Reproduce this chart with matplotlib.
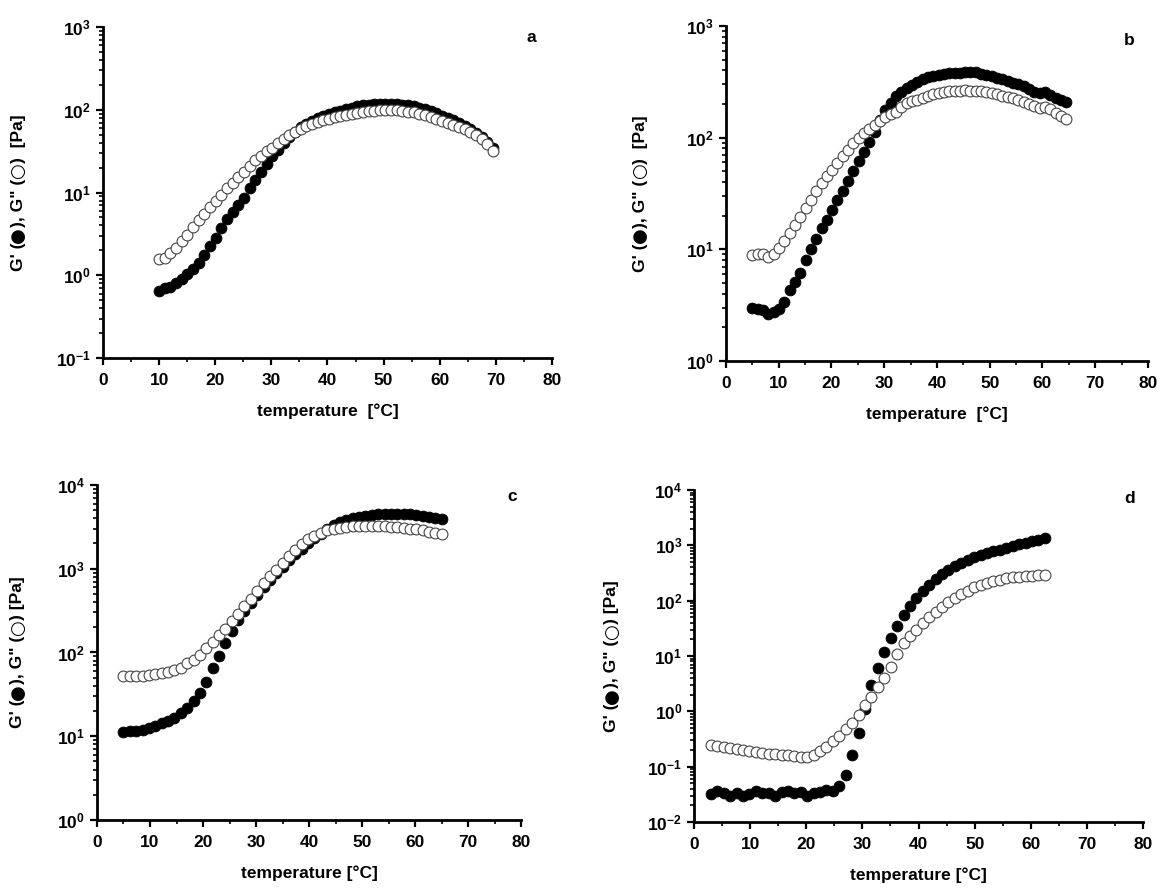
import numpy as np
import matplotlib
matplotlib.use('Agg')
from matplotlib import pyplot as plt
from matplotlib.ticker import FuncFormatter, LogLocator, MultipleLocator, NullFormatter

plt.rcParams['font.family'] = ['Liberation Sans', 'DejaVu Sans']
plt.rcParams['font.weight'] = 'bold'
plt.rcParams['mathtext.fontset'] = 'custom'
plt.rcParams['mathtext.rm'] = 'Liberation Sans'
plt.rcParams['mathtext.bf'] = 'Liberation Sans:bold'

# --- a: temperature sweep, 10 -> 69.5 C
temp_a = np.linspace(10, 69.5, 60)
g1_a = [0.65, 0.71, 0.73, 0.8, 0.9, 1.03, 1.2, 1.42, 1.75, 2.25,
        2.86, 3.7, 4.75, 5.9, 7.1, 8.6, 11.2, 14, 17.5, 22,
        27.5, 33, 40, 47, 54, 62, 68, 74, 79, 84,
        89, 93, 97, 101, 106, 110, 113, 115, 117, 118,
        118, 118, 117, 115, 113, 110, 106, 101, 96, 91,
        85, 80, 75, 70, 64, 59, 53, 47, 41, 35]
g2_a = [1.56, 1.6, 1.85, 2.15, 2.6, 3.1, 3.8, 4.6, 5.5, 6.6,
        7.8, 9.3, 11.5, 13.2, 15.3, 17.6, 21, 24.8, 28, 31.5,
        35, 39.5, 44, 49, 54, 59, 63, 67, 71, 75,
        78, 81, 84, 87, 89, 91, 94, 96, 98, 99,
        100, 100, 99, 97, 95, 93, 90, 86, 82, 78,
        74, 70, 66, 62, 58, 54, 49, 44, 39, 32]

# --- b: 5 -> 64.5 C
temp_b = np.linspace(5, 64.5, 60)
g1_b = [3.0, 2.95, 2.85, 2.65, 2.75, 2.95, 3.4, 4.3, 5.1, 6.1,
        8.0, 10, 12.3, 15.5, 18.3, 22.5, 27.6, 33, 40.5, 50,
        62, 75, 92, 113, 145, 177, 205, 234, 256, 277,
        297, 316, 332, 347, 357, 365, 371, 376, 379, 382,
        383, 384, 386, 372, 364, 356, 345, 333, 321, 310,
        300, 290, 274, 258, 250, 255, 241, 228, 217, 210]
g2_b = [8.9, 9.0, 9.1, 8.5, 9.0, 10.2, 11.8, 13.9, 16.5, 19.5,
        23.3, 27.7, 33, 39, 45, 51, 59, 68, 78, 89,
        99, 110, 120, 129, 141, 154, 162, 171, 187, 203,
        211, 218, 228, 237, 244, 250, 255, 259, 262, 264,
        265, 264, 262, 259, 255, 250, 244, 237, 231, 225,
        218, 210, 201, 192, 183, 187, 179, 165, 156, 148]

# --- c: 5 -> 65 C
temp_c = np.linspace(5, 65, 51)
g1_c = [11.3, 11.4, 11.6, 11.9, 12.6, 13.4, 14.2, 15.0, 16.3, 19,
        22, 26.5, 33, 45, 65, 91, 130, 180, 245, 310,
        390, 490, 610, 740, 890, 1060, 1260, 1480, 1720, 2000,
        2300, 2620, 2950, 3300, 3600, 3850, 4000, 4150, 4280, 4380,
        4450, 4500, 4520, 4520, 4500, 4450, 4380, 4260, 4120, 4000,
        3900]
g2_c = [52, 52, 52, 53, 54, 55, 57, 59, 62, 66,
        74, 82, 94, 112, 135, 160, 190, 235, 290, 355,
        440, 545, 670, 810, 970, 1180, 1420, 1680, 1950, 2250,
        2480, 2680, 2860, 3000, 3100, 3160, 3200, 3230, 3240, 3240,
        3220, 3200, 3170, 3120, 3060, 3000, 2940, 2860, 2780, 2700,
        2620]

# --- d: 3 -> 62.5 C
temp_d = np.linspace(3, 62.5, 53)
g1_d = [0.032, 0.036, 0.033, 0.030, 0.034, 0.030, 0.032, 0.037, 0.033, 0.034,
        0.030, 0.035, 0.036, 0.033, 0.035, 0.030, 0.033, 0.035, 0.038, 0.037,
        0.045, 0.072, 0.16, 0.4, 1.1, 3.0, 6.0, 12, 21, 35,
        55, 80, 110, 150, 195, 245, 300, 355, 420, 475,
        545, 610, 665, 720, 780, 840, 910, 975, 1040, 1110,
        1180, 1260, 1340]
g2_d = [0.243, 0.235, 0.225, 0.215, 0.205, 0.20, 0.19, 0.185, 0.178, 0.172,
        0.168, 0.163, 0.16, 0.155, 0.15, 0.148, 0.165, 0.19, 0.23, 0.29,
        0.36, 0.47, 0.62, 0.85, 1.3, 1.85, 2.8, 4.0, 6.3, 11,
        17, 23, 30, 40, 50, 63, 78, 94, 112, 130,
        152, 175, 192, 210, 224, 238, 252, 263, 272, 280,
        285, 289, 292]

SANS = ['Liberation Sans', 'DejaVu Sans']
SYM = ['DejaVu Sans']
FS = 12.5

panels = [
    # x, G', G'', ylim, axes rect, letter, letter pos, ylabel x, label gap, xlabel
    (temp_a, g1_a, g2_a, (1e-1, 1e3), [0.0887, 0.5968, 0.3867, 0.3727], 'a', (0.955, 0.97),
     -0.189, '  ', 'temperature  [\u00b0C]'),
    (temp_b, g1_b, g2_b, (1e0, 1e3), [0.6253, 0.5935, 0.3635, 0.3773], 'b', (0.955, 0.958),
     -0.203, '  ', 'temperature  [\u00b0C]'),
    (temp_c, g1_c, g2_c, (1e0, 1e4), [0.0835, 0.0766, 0.3656, 0.3773], 'c', (0.978, 0.964),
     -0.186, ' ', 'temperature [\u00b0C]'),
    (temp_d, g1_d, g2_d, (1e-2, 1e4), [0.5978, 0.0743, 0.3867, 0.3739], 'd', (0.971, 0.973),
     -0.183, ' ', 'temperature [\u00b0C]'),
]


def pow10(v, pos):
    e = int(round(np.log10(v)))
    return r'$\mathbf{10^{%d}}$' % e


def stacked_ylabel(ax, parts, x):
    # rotated label built from pieces so the circle symbols can use another font
    s, fam, fs = parts[0]
    prev = ax.text(x, 0.3, s, transform=ax.transAxes, rotation=90, ha='center',
                   va='bottom', fontsize=fs, fontweight='bold', family=fam)
    pieces = [prev]
    for s, fam, fs in parts[1:]:
        t = ax.annotate(s, xy=(0.5, 1.0), xycoords=prev, rotation=90, ha='center',
                        va='bottom', fontsize=fs, fontweight='bold', family=fam,
                        annotation_clip=False)
        pieces.append(t)
        prev = t
    return pieces


fig = plt.figure(figsize=(11.61, 8.88), dpi=100)
labels = []

for x, g1, g2, ylim, rect, letter, lpos, ylx, gap, xlab in panels:
    ax = fig.add_axes(rect)
    ax.plot(x, g1, 'o', ms=7.8, mfc='black', mec='black', mew=0.6, clip_on=False)
    ax.plot(x, g2, 'o', ms=7.8, mfc='white', mec='#444444', mew=0.8, clip_on=False)
    ax.set_yscale('log')
    ax.set_xlim(0, 80)
    ax.set_ylim(*ylim)
    ax.xaxis.set_major_locator(MultipleLocator(10))
    ax.xaxis.set_minor_locator(MultipleLocator(5))
    ax.yaxis.set_major_locator(LogLocator(base=10, numticks=20))
    ax.yaxis.set_minor_locator(LogLocator(base=10, subs=np.arange(2, 10), numticks=20))
    ax.yaxis.set_major_formatter(FuncFormatter(pow10))
    ax.yaxis.set_minor_formatter(NullFormatter())
    for s in ['top', 'right']:
        ax.spines[s].set_visible(False)
    for s in ['left', 'bottom']:
        ax.spines[s].set_linewidth(2)
    ax.tick_params(which='major', direction='out', length=5, width=1.6, labelsize=FS)
    ax.tick_params(axis='x', which='major', pad=6)
    ax.tick_params(which='minor', direction='out', length=3, width=1.2)
    ax.set_xlabel(xlab, fontsize=FS, fontweight='bold', labelpad=11)
    parts = [("G' (", SANS, FS), ('\u25cf', SYM, 13), ('), G" (', SANS, FS),
             ('\u25cb', SYM, 13), (')' + gap + '[Pa]', SANS, FS)]
    labels.append((ax, stacked_ylabel(ax, parts, ylx)))
    ax.text(lpos[0], lpos[1], letter, transform=ax.transAxes, fontsize=FS,
            fontweight='bold', ha='center', va='center')

# centre every stacked label on its axes
fig.canvas.draw()
for ax, pieces in labels:
    lo = pieces[0].get_window_extent().y0
    hi = pieces[-1].get_window_extent().y1
    mid = ax.transAxes.transform((0, 0.5))[1]
    shift = mid - 0.5 * (lo + hi)
    x0, y0 = pieces[0].get_position()
    pieces[0].set_y(y0 + shift / ax.bbox.height)

plt.savefig('out.png', dpi=100)
